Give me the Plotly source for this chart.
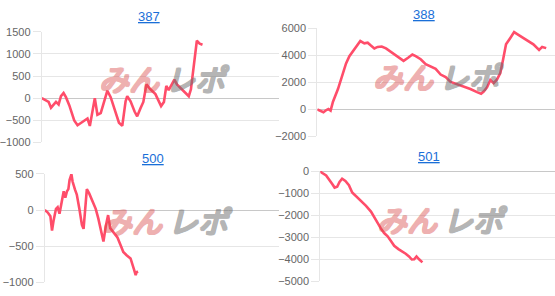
import plotly.graph_objects as go

W, H = 555, 296

# ---- data (x = position along each chart's axis, 0-100; y = values) ----
titles = ["387", "388", "500", "501"]

x387 = [0, 1.8, 2.9, 3.9, 4.9, 6.0, 7.1, 8.1, 9.2, 10.2, 11.6, 13.7, 15.1, 16.5, 17.9, 19.3,
        20.3, 21.4, 22.4, 23.5, 24.9, 26.3, 27.7, 29.1, 31.2, 32.6, 34.0, 35.4, 36.1, 37.5,
        39.2, 40.3, 41.7, 42.9, 44.2, 45.9, 48.0, 49.5, 50.4, 51.6, 52.6, 53.6, 54.6, 56.0,
        57.1, 58.5, 60.6, 62.1, 63.0, 64.2, 65.5, 66.7, 67.9]
y387 = [0, -57, -87, -217, -160, -87, -145, 43, 115, 22, -160, -507, -615, -558, -500, -463,
        -630, -304, 0, -376, -340, -87, 167, 22, -304, -558, -630, -72, 43, -72,
        -304, -413, -232, -87, 310, 200, 91, -57, -180, -87, 275, 180, 275, 420,
        310, 235, 130, 43, 200, 670, 1300, 1235, 1210]

x388 = [0, 1.0, 2.6, 3.8, 4.7, 5.6, 6.6, 8.7, 10.3, 12.1, 13.5, 14.9, 16.7, 18.1, 19.8, 21.2,
        22.3, 24.0, 25.4, 27.1, 28.9, 31.0, 33.8, 36.3, 38.2, 40.0, 41.4, 43.5, 45.6, 47.7,
        49.8, 51.9, 54.0, 56.1, 58.9, 61.6, 64.4, 67.2, 68.9, 70.0, 71.4, 72.8, 74.2, 75.6,
        77.0, 78.1, 79.4, 81.2, 82.8, 84.6, 86.7, 88.8, 90.9, 93.3, 94.6, 96.3]
y388 = [0, -70, -210, -50, 20, -90, 565, 1500, 2330, 3390, 3930, 4280, 4680, 5040, 4870, 4920,
        4750, 4500, 4610, 4640, 4500, 4220, 3860, 3580, 3810, 4050, 3930, 3700, 3340, 3150,
        2990, 2570, 2380, 2030, 1860, 1690, 1500, 1270, 1150, 1320, 1620, 2170, 1930, 2210,
        2680, 3620, 4800, 5270, 5700, 5500, 5270, 5040, 4800, 4380, 4610, 4520]

x500 = [0, 1.3, 2.4, 3.1, 3.8, 4.8, 5.5, 6.3, 7.2, 8.1, 8.8, 9.5, 10.1, 10.6, 11.4, 11.9,
        12.9, 13.7, 14.8, 15.9, 16.6, 17.1, 18.0, 19.0, 20.4, 21.8, 22.9, 24.0, 25.1, 26.1,
        27.1, 28.0, 29.4, 31.1, 32.5, 33.6, 35.0, 36.7, 38.2, 38.9, 39.3, 39.9]
y500 = [0, -35, -85, -285, -140, 17, 40, -50, 105, 260, 170, 260, 290, 415, 495, 395,
        285, 215, 17, -205, -260, -25, 290, 230, 130, 17, -115, -290, -435, -225,
        -70, -250, -315, -380, -490, -580, -625, -670, -825, -900, -860, -850]

x501 = [0, 0.4, 2.5, 3.9, 5.1, 6.1, 7.2, 8.2, 9.3, 10.7, 12.2, 13.6, 15.3, 17.4, 19.5, 21.6,
        23.0, 24.4, 25.8, 27.2, 28.7, 30.1, 31.5, 33.3, 35.0, 36.4, 37.8, 39.0, 40.0, 41.0,
        42.1, 43.5]
y501 = [0, -60, -200, -390, -590, -750, -710, -490, -350, -450, -640, -970, -1140, -1360,
        -1580, -1840, -2090, -2380, -2600, -2810, -2960, -3170, -3390, -3540, -3640, -3750,
        -3870, -4010, -4000, -3870, -4000, -4140]

series_x = [x387, x388, x500, x501]
series_y = [y387, y388, y500, y501]

y_ranges = [[-1000, 1500], [-2000, 6000], [-1000, 500], [-5000, 0]]
y_dtick = [500, 2000, 500, 1000]

# ---- layout geometry (pixels) ----
# plot areas: left, right, top, bottom
areas = [(39, 277, 27, 142), (316, 555, 23, 136), (42, 277, 175, 288), (319, 555, 172, 287)]
title_pos = [(147, 11), (423, 9), (151, 159), (428, 157)]
wm_left = [(92, 75), (368, 72.5), (95, 223.5), (372, 222.5)]

LINE = "rgb(255,77,106)"
GRID = "#e6e6e6"
PINK = "rgb(215,70,70)"
GRAY = "rgb(110,110,110)"

def thick(c):
    return ", ".join(f"{dx}px {dy}px 0 {c}" for dx, dy in
                     [(1, 0), (-1, 0), (0, 1), (0, -1), (1, 1), (-1, -1), (1, -1), (-1, 1)])

fig = go.Figure()
annotations = []
layout = {}

def px(x):
    return x / W

def py(y):
    return 1 - y / H

for i in range(4):
    n = "" if i == 0 else str(i + 1)
    l, r, t, b = areas[i]
    fig.add_trace(go.Scatter(
        x=series_x[i], y=series_y[i], mode="lines",
        line=dict(color=LINE, width=2.6),
        xaxis="x" + n, yaxis="y" + n, showlegend=False, hoverinfo="skip"))
    layout["xaxis" + n] = dict(
        domain=[px(l), px(r)], range=[0, 100], anchor="y" + n,
        showgrid=False, zeroline=False, showline=False, showticklabels=False, ticks="",
        fixedrange=True)
    layout["yaxis" + n] = dict(
        domain=[py(b), py(t)], range=y_ranges[i], anchor="x" + n, dtick=y_dtick[i],
        showgrid=True, gridcolor=GRID, gridwidth=1,
        zeroline=True, zerolinecolor="#c8c8c8", zerolinewidth=1,
        showline=True, linecolor=GRID, linewidth=1,
        ticks="outside", ticklen=8, tickcolor=GRID, tickwidth=1,
        tickfont=dict(family="Liberation Sans, Arial", size=11, color="#666666"),
        fixedrange=True)
    tx, ty = title_pos[i]
    annotations.append(dict(
        text="<u>" + titles[i] + "</u>", x=px(tx), y=py(ty), xref="paper", yref="paper",
        xanchor="center", yanchor="middle", showarrow=False,
        font=dict(family="Liberation Sans, Arial", size=13, color="#1a6fd8")))
    wl, wy = wm_left[i]
    annotations.append(dict(
        text="みん", x=px(wl + 35), y=py(wy), xref="paper", yref="paper",
        xanchor="center", yanchor="middle", showarrow=False, opacity=0.42,
        font=dict(family="Noto Sans CJK JP", size=30, color=PINK,
                  style="italic", shadow=thick(PINK))))
    annotations.append(dict(
        text="レポ", x=px(wl + 103), y=py(wy), xref="paper", yref="paper",
        xanchor="center", yanchor="middle", showarrow=False, opacity=0.5,
        font=dict(family="Noto Sans CJK JP", size=30, color=GRAY,
                  style="italic", shadow=thick(GRAY))))

fig.update_layout(
    width=W, height=H, margin=dict(l=0, r=0, t=0, b=0),
    paper_bgcolor="white", plot_bgcolor="white",
    annotations=annotations, showlegend=False, **layout)

fig.write_html("out.html", config={"displayModeBar": False})
